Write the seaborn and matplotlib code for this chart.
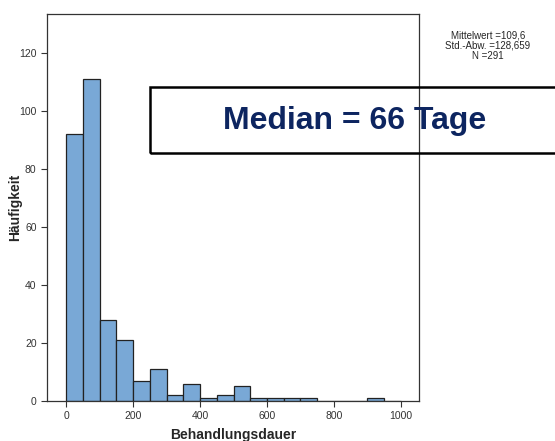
import numpy as np
import pandas as pd
import matplotlib
matplotlib.use("Agg")
import matplotlib.pyplot as plt
from matplotlib.patches import Rectangle
import seaborn as sns

# Histogramm-Daten (Klassenbreite 50 Tage)
klassen_start = [0, 50, 100, 150, 200, 250, 300, 350, 400, 450,
                 500, 550, 600, 650, 700, 750, 800, 850, 900, 950]
haeufigkeit = [92, 111, 28, 21, 7, 11, 2, 6, 1, 2,
               5, 1, 1, 1, 1, 0, 0, 0, 1, 0]
x_ticks = [0, 200, 400, 600, 800, 1000]
y_ticks = [0, 20, 40, 60, 80, 100, 120]

df = pd.DataFrame({"mitte": np.array(klassen_start) + 25, "n": haeufigkeit})

sns.set_style("white")
plt.rcParams['font.family'] = ['Liberation Sans', 'DejaVu Sans']

fig = plt.figure(figsize=(5.55, 4.41), dpi=100)
ax = fig.add_axes([47 / 555, 40 / 441, 372 / 555, 387 / 441])

sns.histplot(data=df, x="mitte", weights="n", binwidth=50, binrange=(0, 1000),
             color="#79a8d6", alpha=1, edgecolor="#222222", linewidth=0.9, ax=ax)

ax.set_xlim(-57, 1054)
ax.set_ylim(0, 133.4)
ax.set_xticks(x_ticks)
ax.set_yticks(y_ticks)
ax.tick_params(axis="both", direction="out", length=4, width=0.8,
               labelsize=7.5, colors="#333333", left=True, bottom=True)
for s in ax.spines.values():
    s.set_color("#333333")
    s.set_linewidth(0.9)
ax.set_xlabel("Behandlungsdauer", fontsize=10, fontweight="bold", va="center")
ax.set_ylabel("Häufigkeit", fontsize=10, fontweight="bold", va="center")
ax.xaxis.set_label_coords(0.5, (401 - 435) / 387)
ax.yaxis.set_label_coords((15 - 47) / 372, 0.5)

# Statistik-Text rechts oben
fig.text(488 / 555, 1 - 46 / 441, "Mittelwert =109,6\nStd.-Abw. =128,659\nN =291",
         ha="center", va="center", fontsize=7, linespacing=1.0)

# Kasten mit Median
fig.patches.append(Rectangle((150 / 555, 1 - 153 / 441), 410 / 555, 66 / 441,
                             transform=fig.transFigure, fill=False,
                             edgecolor="black", linewidth=1.8, zorder=5))
fig.text(355 / 555, 1 - 121 / 441, "Median = 66 Tage", ha="center", va="center",
         fontsize=23, fontweight="bold", color="#0d2560")

fig.savefig("out.png", dpi=100)
